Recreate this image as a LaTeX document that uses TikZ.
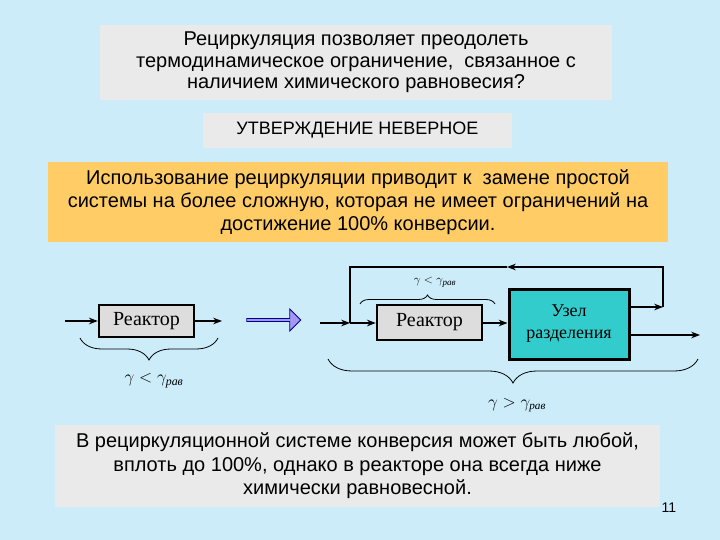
\documentclass[tikz,border=0pt]{standalone}
\usepackage{amsmath}
\usepackage{fontspec}
\setmainfont{Liberation Serif}
\setsansfont{Liberation Sans}
\usetikzlibrary{arrows.meta,positioning,shapes.arrows,decorations.pathreplacing}
\definecolor{bgblue}{RGB}{204,236,250}
\definecolor{panelgray}{RGB}{234,234,234}
\definecolor{noteorange}{RGB}{255,204,102}
\definecolor{reacgray}{RGB}{221,221,221}
\definecolor{septeal}{RGB}{51,204,204}
\definecolor{fatblue}{RGB}{165,150,245}
\newcommand{\rav}{\text{\itshape рав}}

\begin{document}
\begin{tikzpicture}[x=1pt, y=-1pt, >=Stealth,
  panel/.style={fill=#1, inner sep=0pt, align=center},
  blk/.style={draw, line width=2.4pt, fill=#1, inner sep=0pt, font=\fontsize{20}{22}\selectfont},
  flow/.style={->, line width=1.3pt},
  brc/.style={decorate, decoration={brace, amplitude=#1}, line width=0.8pt}]
\fill[bgblue] (0,0) rectangle (720,540);
\useasboundingbox (0,0) rectangle (720,540);
% text panels
\node[panel=panelgray, minimum width=512pt, minimum height=75pt, font=\sffamily\fontsize{20}{21.5}\selectfont] (q) at (356,62.5) {Рециркуляция позволяет преодолеть\\термодинамическое ограничение,\ \ связанное с\\наличием химического равновесия?};
\node[panel=panelgray, minimum width=309pt, minimum height=35pt, font=\sffamily\fontsize{18}{20}\selectfont] (v) at (357.5,130.5) {УТВЕРЖДЕНИЕ НЕВЕРНОЕ};
\node[panel=noteorange, minimum width=620pt, minimum height=80pt, font=\sffamily\fontsize{20}{23}\selectfont] (o) at (358,202) {Использование рециркуляции приводит к\ \ замене простой\\системы на более сложную, которая не имеет ограничений на\\достижение 100\% конверсии.};
\node[panel=panelgray, minimum width=605pt, minimum height=82pt, font=\sffamily\fontsize{20}{23.5}\selectfont] (c) at (357.5,466) {В рециркуляционной системе конверсия может быть любой,\\вплоть до 100\%, однако в реакторе она всегда ниже\\химически равновесной.};
\node[font=\sffamily\fontsize{14}{16}\selectfont] (pg) at (669,508) {11};
% simple reactor
\node[blk=reacgray, minimum width=95pt, minimum height=32pt] (r1) at (146.5,321) {Реактор};
\coordinate (a1) at (65,321); \coordinate (b1) at (222,321);
\draw[flow] (a1) -- (r1); \draw[flow] (r1) -- (b1);
\draw[brc=22pt] (218,338) -- (80,338);
\node[font=\fontsize{17}{17}\selectfont] (g1) at (154,381) {$\gamma<\gamma_{\rav}$};
\node[single arrow, draw=blue!55!black, line width=0.8pt, fill=fatblue, minimum width=22pt, minimum height=54pt, single arrow head extend=2.5pt, inner sep=0pt] (fa) at (273,320) {};
% reactor with recycle
\node[blk=reacgray, minimum width=105pt, minimum height=35pt] (r2) at (429.5,322.5) {Реактор};
\node[blk=septeal, line width=3pt, minimum width=120pt, minimum height=70pt, align=center, font=\fontsize{18}{22}\selectfont] (s) at (569,324) {Узел\\разделения};
\coordinate (in2) at (320,323); \coordinate (j) at (350,323);
\coordinate (t) at (663,307); \coordinate (rt) at (663,267); \coordinate (m) at (507,267); \coordinate (lt) at (350,267);
\coordinate (out) at (700,335);
\draw[flow] (in2) -- (j); \draw[flow] (j) -- (j -| r2.west); \draw[flow] (r2.east |- j) -- (j -| s.west);
\draw[flow] (s.east |- t) -- (t); \draw[flow] (t) -- (rt) -- (m); \draw[line width=1.3pt] (m) -- (lt) -- (j);
\draw[flow] (s.east |- out) -- (out);
\draw[brc=9pt] (360,304) -- (495,304);
\node[font=\fontsize{13}{13}\selectfont] (g2) at (435,282) {$\gamma<\gamma_{\rav}$};
\draw[brc=24pt] (698,359) -- (328,359);
\node[font=\fontsize{16}{16}\selectfont] (g3) at (517,405) {$\gamma>\gamma_{\rav}$};
\end{tikzpicture}
\end{document}
